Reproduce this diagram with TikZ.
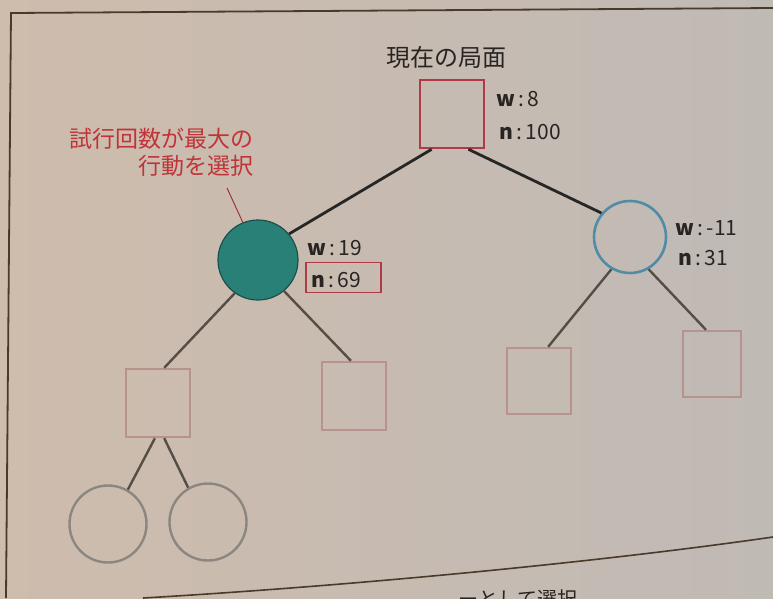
\documentclass[tikz,border=0pt]{standalone}
\usepackage{fontspec}
\setmainfont{Noto Sans CJK JP}
\definecolor{pagel}{RGB}{206,188,173}
\definecolor{pager}{RGB}{192,186,181}
\definecolor{rootred}{RGB}{176,58,72}
\definecolor{labred}{RGB}{192,52,56}
\definecolor{tealf}{RGB}{40,128,118}
\definecolor{teald}{RGB}{28,80,74}
\definecolor{bluec}{RGB}{80,140,165}
\definecolor{sqpink}{RGB}{184,146,140}
\definecolor{edgeg}{RGB}{84,78,70}
\definecolor{circg}{RGB}{140,134,128}
\definecolor{frame}{RGB}{74,58,42}
\definecolor{txt}{RGB}{40,36,34}
\tikzset{
  sqbox/.style={draw=sqpink, line width=2.4pt, minimum width=64pt, minimum height=68pt, inner sep=0pt},
  leafc/.style={circle, draw=circg, line width=2.4pt, minimum size=77pt, inner sep=0pt},
  topedge/.style={draw=black!85, line width=2.8pt},
  lowedge/.style={draw=edgeg, line width=2.4pt},
  stat/.style={anchor=base west, font=\fontsize{21}{24}\selectfont, text=txt, inner sep=0pt},
}
\begin{document}
\begin{tikzpicture}[x=1pt,y=-1pt]
\useasboundingbox (0,0) rectangle (773,598);
\clip (0,0) rectangle (773,598);
\shade[left color=pagel, right color=pager] (0,0) rectangle (773,598);
% frame
\draw[frame, line width=1.8pt] (773,8) -- (11,13) -- (6,598);
\draw[frame, line width=1.6pt] (143,598) .. controls (350,586) and (600,562) .. (773,537);
% nodes
\node[draw=rootred, line width=2.6pt, minimum width=64pt, minimum height=68pt, inner sep=0pt] (root) at (452,114) {};
\node[circle, fill=tealf, draw=teald, line width=1.2pt, minimum size=80pt, inner sep=0pt] (L) at (258,260) {};
\node[circle, draw=bluec, line width=2.6pt, minimum size=72pt, inner sep=0pt] (R) at (630,237) {};
\node[sqbox] (S1) at (158,403) {};
\node[sqbox] (S2) at (354,396) {};
\node[sqbox, minimum height=66pt] (S3) at (539,381) {};
\node[sqbox, minimum width=58pt, minimum height=66pt] (S4) at (712,364) {};
\node[leafc] (C1) at (108,524) {};
\node[leafc] (C2) at (208,522) {};
% edges
\draw[topedge] (root.-120) -- (L.40);
\draw[topedge] (root.-65) -- (R.140);
\draw[lowedge] (L.235) -- (S1.80);
\draw[lowedge] (L.-50) -- (S2.95);
\draw[lowedge] (R.-120) -- (S3.75);
\draw[lowedge] (R.-60) -- (S4.100);
\draw[lowedge] (S1.-95) -- (C1.60);
\draw[lowedge] (S1.-80) -- (C2.120);
% labels
\node[font=\fontsize{24}{28}\selectfont, text=txt] (title) at (446,57) {現在の局面};
\node[stat] (w0) at (496,106) {\textbf{w}\,:\,8};
\node[stat] (n0) at (499,139) {\textbf{n}\,:\,100};
\node[stat] (w1) at (307,255) {\textbf{w}\,:\,19};
\node[stat] (n1) at (311,287) {\textbf{n}\,:\,69};
\node[draw=rootred, line width=1.3pt, minimum width=75pt, minimum height=30pt, inner sep=0pt] (n1box) at (343.5,277.5) {};
\node[stat] (w2) at (675,235) {\textbf{w}\,:\,-11};
\node[stat] (n2) at (678,265) {\textbf{n}\,:\,31};
\node[anchor=north east, align=right, text=labred, font=\fontsize{23}{27}\selectfont, inner sep=0pt] (lab) at (254,128) {試行回数が最大の\\行動を選択};
\coordinate (p1) at (227,188);
\draw[labred!80!black, line width=0.9pt] (p1) -- (L.112);
\node[anchor=base east, text=txt, font=\fontsize{20}{24}\selectfont, inner sep=0pt] (bot) at (578,606) {ーとして選択};
\end{tikzpicture}
\end{document}
